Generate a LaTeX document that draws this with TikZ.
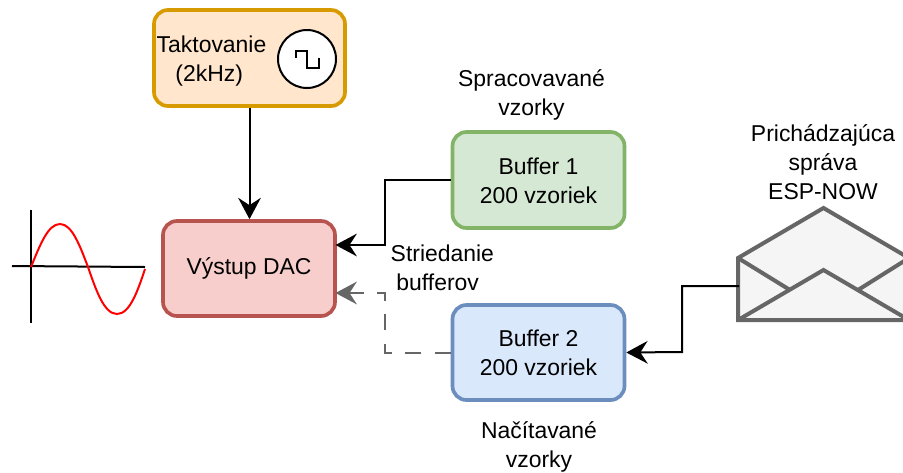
\documentclass[tikz,border=0pt]{standalone}
\usepackage{fontspec}
\setmainfont{Liberation Sans}
\usetikzlibrary{arrows.meta}
\definecolor{orangefill}{HTML}{FFE6CC}\definecolor{orangeline}{HTML}{D79B00}
\definecolor{redfill}{HTML}{F8CECC}\definecolor{redline}{HTML}{B85450}
\definecolor{greenfill}{HTML}{D5E8D4}\definecolor{greenline}{HTML}{82B366}
\definecolor{bluefill}{HTML}{DAE8FC}\definecolor{blueline}{HTML}{6C8EBF}
\definecolor{envfill}{HTML}{F5F5F5}\definecolor{envline}{HTML}{666666}
\tikzset{
  x=0.75pt,y=-0.75pt,
  box/.style={draw,line width=2.75pt,rounded corners=10.5pt,inner sep=0pt,align=center,
    font=\fontsize{17.2}{21.75}\selectfont},
  label/.style={inner sep=0pt,align=center,font=\fontsize{17.2}{21.75}\selectfont},
  conn/.style={line width=1.5pt,-{Stealth[length=16pt,width=17pt,inset=5.5pt]}},
  swap/.style={conn,envline,line width=1.5pt,dash pattern=on 12pt off 10pt},
  envstroke/.style={envline,line width=3pt,line join=miter},
}
\begin{document}
\begin{tikzpicture}
\useasboundingbox (0,0) rectangle (903,472);
\clip (0,0) rectangle (903,472);
% boxes
\node[box,fill=orangefill,draw=orangeline,minimum width=143.25pt,minimum height=72pt] (clk) at (249.5,58) {};
\node[box,fill=redfill,draw=redline,minimum width=129pt,minimum height=71.25pt] (dac) at (249,268.5) {\raisebox{-2pt}{Výstup DAC}};
\node[box,fill=greenfill,draw=greenline,minimum width=129pt,minimum height=72pt] (buf1) at (538.5,180) {\rule{0pt}{13pt}Buffer 1\\200 vzoriek};
\node[box,fill=bluefill,draw=blueline,minimum width=129pt,minimum height=71.25pt] (buf2) at (538.5,352.5) {\rule{0pt}{13pt}Buffer 2\\200 vzoriek};
% clock
\node[label] (clktext) at (211.5,61) {Taktovanie\\(2kHz)\hspace*{3.5pt}};
\node[draw,fill=white,circle,line width=1.5pt,minimum size=43.5pt,inner sep=0pt] (clkicon) at (307,59) {};
\draw[line width=1.5pt] (296,58) -- (296,51) -- (307,51) -- (307,68) -- (319,68) -- (319,58);
% labels
\node[label] (spr) at (531.5,94.5) {Spracovavané\\vzorky};
\node[label] (str) at (440,267.5) {Striedanie\hspace*{-3.5pt}\\bufferov\hspace*{3.5pt}};
\node[label] (nac) at (539,447) {Načítavané\\vzorky};
\node[label] (msg) at (823,162.5) {Prichádzajúca\\správa\\ESP-NOW};
% envelope
\fill[envfill] (738,258) -- (823.5,208) -- (909,258) -- (909,320) -- (738,320) -- cycle;
\draw[envstroke] (738,258) -- (790,290);
\draw[envstroke] (909,258) -- (858,290);
\draw[envstroke] (738,320) -- (823.5,270) -- (909,320);
\draw[envstroke] (738,258) -- (823.5,208) -- (909,258) -- (909,320) -- (738,320) -- cycle;
% free connector ends
\coordinate (envout) at (739,286);
\coordinate (dacin1) at (335.5,245);
\coordinate (dacin2) at (335.5,293);
\coordinate (bendA) at (385,245);
\coordinate (bendB) at (385,293);
\coordinate (bendC) at (682,352);
% connectors
\draw[conn] (clk.south) -- (clk.south |- dac.north);
\draw[conn] (buf1.west) -| (bendA) -- (dacin1);
\draw[swap] (buf2.west) -| (bendB) -- (dacin2);
\draw[conn] (envout) -| (bendC) -- (buf2.east);
% sine
\draw[line width=1.5pt] (31,210) -- (31,323);
\draw[line width=1.5pt] (12,266) -- (145,267);
\draw[red,line width=1.5pt] (31,267) .. controls (40,245) and (48,224) .. (60,224)
  .. controls (72,224) and (80,246) .. (88,267)
  .. controls (96,290) and (104,314) .. (117,314)
  .. controls (130,314) and (138,290) .. (145,269);
\end{tikzpicture}
\end{document}
